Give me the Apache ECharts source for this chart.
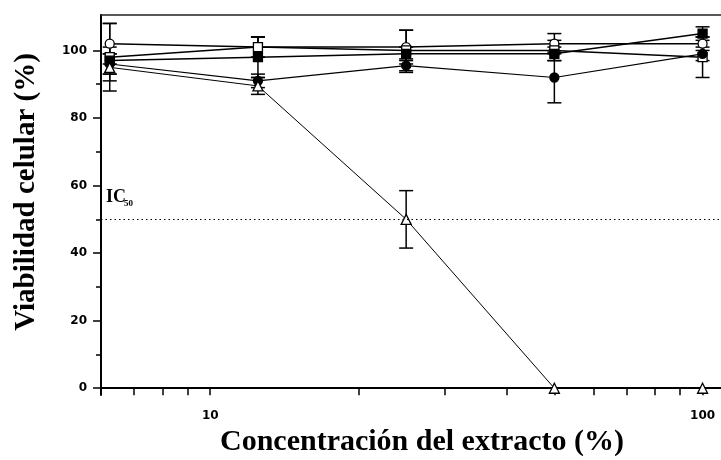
<!DOCTYPE html>
<html>
<head>
<meta charset="utf-8">
<script src="https://cdn.jsdelivr.net/npm/echarts@6/dist/echarts.min.js"></script>
<style>
	html, body { margin: 0; padding: 0; background: #fff; }
	#chart { width: 721px; height: 460px; }
</style>
</head>
<body>
<div id="chart"></div>
<script>
// concentraciones (%) y viabilidad (%)
var concentrations = [6.25, 12.5, 25, 50, 100]
var openCircle = [102, 101, 101, 102, 102]
var openCircleErr = [6, 3, 5, 3, 2]
var openSquare = [98, 101, 100, 100, 98]
var openSquareErr = [10, 3, 6, 3, 6]
var filledSquare = [97, 98, 99, 99, 105]
var filledSquareErr = [4, 6, 2, 2, 2]
var filledCircle = [96, 91, 95.5, 92, 99]
var filledCircleErr = [3, 2, 2, 7.5, 2]
var openTriangle = [95, 89.5, 50, 0, 0]
var openTriangleErr = [4, 2.5, 8.5, 0, 0]

var xLabelValues = [10, 100]
var xTickValues = [7, 8, 9, 10, 20, 30, 40, 50, 60, 70, 80, 90, 100]
var yLabelValues = [0, 20, 40, 60, 80, 100]
var yMinorValues = [10, 30, 50, 70, 90]
var ic50 = 50

var black = '#000'
var tickFont = { color: black, fontFamily: 'DejaVu Sans', fontWeight: 'bold', fontSize: 12 }

function errorSeries(values, errors) {
	return {
		type: 'custom',
		xAxisIndex: 0,
		yAxisIndex: 0,
		silent: true,
		z: 1,
		data: concentrations.map(function (x, i) {
			return [x, values[i] - errors[i], values[i] + errors[i]]
		}),
		renderItem: function (params, api) {
			if (api.value(1) === api.value(2)) return null
			var lo = api.coord([api.value(0), api.value(1)])
			var hi = api.coord([api.value(0), api.value(2)])
			var w = 7
			var st = { stroke: black, lineWidth: 1.5 }
			return {
				type: 'group',
				children: [
					{ type: 'line', shape: { x1: hi[0], y1: hi[1], x2: lo[0], y2: lo[1] }, style: st },
					{ type: 'line', shape: { x1: hi[0] - w, y1: hi[1], x2: hi[0] + w, y2: hi[1] }, style: st },
					{ type: 'line', shape: { x1: lo[0] - w, y1: lo[1], x2: lo[0] + w, y2: lo[1] }, style: st }
				]
			}
		}
	}
}

function lineSeries(values, symbol, filled, width) {
	return {
		type: 'line',
		xAxisIndex: 0,
		yAxisIndex: 0,
		z: 3,
		data: concentrations.map(function (x, i) { return [x, values[i]] }),
		symbol: symbol,
		symbolSize: symbol === 'triangle' ? 10 : 9,
		showAllSymbol: true,
		lineStyle: { color: black, width: width },
		itemStyle: { color: filled ? black : '#fff', borderColor: black, borderWidth: 1.3 },
		emphasis: { disabled: true }
	}
}

var triangles = lineSeries(openTriangle, 'triangle', false, 1)
triangles.markLine = {
	silent: true,
	symbol: 'none',
	label: { show: false },
	lineStyle: { color: black, type: [1.5, 3], width: 1.2 },
	data: [{ yAxis: ic50 }]
}

var option = {
	animation: false,
	backgroundColor: '#fff',
	grid: { left: 101, top: 15, right: 0, bottom: 65, outerBoundsMode: 'none', containLabel: false },
	xAxis: [{
		type: 'log',
		logBase: 10,
		min: 6,
		max: 109,
		name: 'Concentración del extracto (%)',
		nameLocation: 'middle',
		nameGap: 32,
		nameTextStyle: { color: black, fontFamily: 'Liberation Serif', fontWeight: 'bold', fontSize: 30, padding: [0, 0, 0, 22] },
		axisLine: { lineStyle: { color: black, width: 2 } },
		axisTick: { customValues: xTickValues, length: 7, inside: false, lineStyle: { color: black, width: 1.5 } },
		axisLabel: Object.assign({ customValues: xLabelValues, margin: 15 }, tickFont),
		splitLine: { show: false },
		minorTick: { show: false }
	}, {
		type: 'value',
		position: 'top',
		min: 0,
		max: 1,
		axisLine: { show: true, onZero: false, lineStyle: { color: '#222', width: 1.5 } },
		axisTick: { show: false },
		axisLabel: { show: false },
		splitLine: { show: false }
	}],
	yAxis: [{
		type: 'value',
		min: -2,
		max: 110.5,
		name: 'Viabilidad celular (%)',
		nameLocation: 'middle',
		nameGap: 60,
		nameTextStyle: { color: black, fontFamily: 'Liberation Serif', fontWeight: 'bold', fontSize: 29, padding: [0, 0, 0, 26] },
		axisLine: { show: true, onZero: false, lineStyle: { color: black, width: 2 } },
		axisTick: { customValues: yLabelValues, length: 8, lineStyle: { color: black, width: 1.5 } },
		axisLabel: Object.assign({ customValues: yLabelValues, margin: 14 }, tickFont),
		splitLine: { show: false }
	}, {
		type: 'value',
		position: 'left',
		min: -2,
		max: 110.5,
		axisLine: { show: false },
		axisTick: { show: true, customValues: yMinorValues, length: 5, lineStyle: { color: black, width: 1.5 } },
		axisLabel: { show: false },
		splitLine: { show: false }
	}],
	graphic: [
		{ type: 'text', left: 106, top: 188, style: { text: 'IC', fill: black, font: 'bold 18px "Liberation Serif"' } },
		{ type: 'text', left: 124, top: 199, style: { text: '50', fill: black, font: 'bold 9px "Liberation Serif"' } }
	],
	series: [
		errorSeries(openCircle, openCircleErr),
		errorSeries(openSquare, openSquareErr),
		errorSeries(filledSquare, filledSquareErr),
		errorSeries(filledCircle, filledCircleErr),
		errorSeries(openTriangle, openTriangleErr),
		lineSeries(openCircle, 'circle', false, 1.5),
		lineSeries(openSquare, 'rect', false, 1.5),
		lineSeries(filledSquare, 'rect', true, 1.5),
		lineSeries(filledCircle, 'circle', true, 1.2),
		triangles
	]
}

var myChart = echarts.init(document.getElementById('chart'))
myChart.setOption(option)
</script>
</body>
</html>
